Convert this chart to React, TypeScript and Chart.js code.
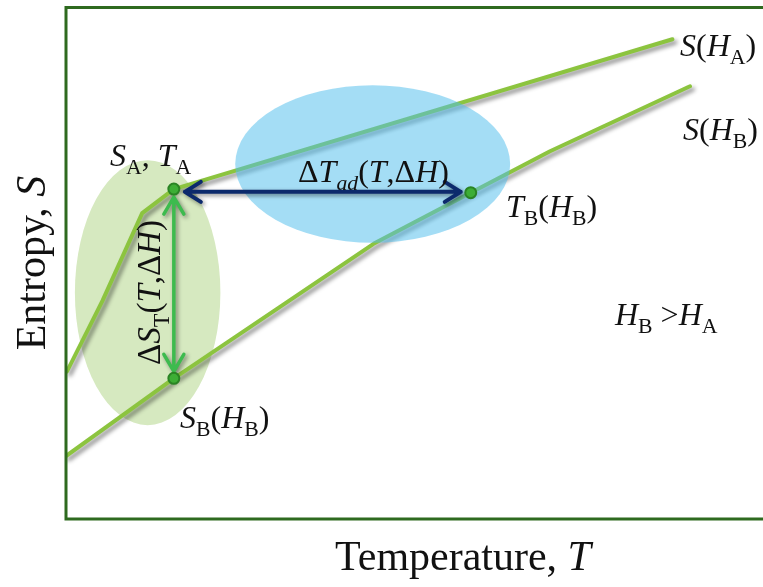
import { useEffect, useRef } from "react";
import { Chart, registerables } from "chart.js";

Chart.register(...registerables);

// Entropy curve at field H_A (temperature, entropy)
const tempA = [0.14, 5.3, 11.05, 15.64, 87.95];
const entropyA = [28.85, 42.7, 59.8, 64.5, 93.8];

// Entropy curve at field H_B
const tempB = [0, 15.64, 44.6, 58.7, 70.2, 90.5];
const entropyB = [12.3, 27.5, 53.8, 63.8, 71.9, 84.6];

// Marked states: (S_A, T_A), S_B(H_B), T_B(H_B)
const markerT = [15.64, 15.64, 58.7];
const markerS = [64.5, 27.5, 63.8];

const SERIF = '"Liberation Serif", "DejaVu Serif", serif';
const LINE_GREEN = "#8CC43F";
const FRAME_GREEN = "#2E6A1F";

type Part = { t: string; it?: boolean; sub?: boolean };

function partFont(p: Part, size: number) {
  const fs = p.sub ? size * 0.68 : size;
  return `${p.it ? "italic " : ""}${fs}px ${SERIF}`;
}

function richWidth(ctx: CanvasRenderingContext2D, parts: Part[], size: number) {
  let w = 0;
  for (const p of parts) {
    ctx.font = partFont(p, size);
    w += ctx.measureText(p.t).width;
  }
  return w;
}

function drawRich(
  ctx: CanvasRenderingContext2D,
  parts: Part[],
  x: number,
  y: number,
  size: number,
  align: "left" | "center" = "left"
) {
  ctx.save();
  ctx.fillStyle = "#111";
  ctx.textAlign = "left";
  ctx.textBaseline = "alphabetic";
  let cx = align === "center" ? x - richWidth(ctx, parts, size) / 2 : x;
  for (const p of parts) {
    ctx.font = partFont(p, size);
    ctx.fillText(p.t, cx, y + (p.sub ? size * 0.26 : 0));
    cx += ctx.measureText(p.t).width;
  }
  ctx.restore();
}

function shadowOn(ctx: CanvasRenderingContext2D, blur = 4, off = 3) {
  ctx.shadowColor = "rgba(0,0,0,0.45)";
  ctx.shadowBlur = blur;
  ctx.shadowOffsetX = off;
  ctx.shadowOffsetY = off;
}

// line with an open chevron head at each end
function doubleArrow(
  ctx: CanvasRenderingContext2D,
  x1: number,
  y1: number,
  x2: number,
  y2: number,
  color: string,
  width: number,
  headLen: number,
  headHalf: number
) {
  const dx = x2 - x1;
  const dy = y2 - y1;
  const len = Math.hypot(dx, dy);
  const ux = dx / len;
  const uy = dy / len;
  const nx = -uy;
  const ny = ux;
  ctx.save();
  shadowOn(ctx, 4, 2);
  ctx.strokeStyle = color;
  ctx.lineWidth = width;
  ctx.lineCap = "round";
  ctx.lineJoin = "round";
  ctx.beginPath();
  ctx.moveTo(x1, y1);
  ctx.lineTo(x2, y2);
  // head at end 2
  ctx.moveTo(x2 - ux * headLen + nx * headHalf, y2 - uy * headLen + ny * headHalf);
  ctx.lineTo(x2, y2);
  ctx.lineTo(x2 - ux * headLen - nx * headHalf, y2 - uy * headLen - ny * headHalf);
  // head at end 1
  ctx.moveTo(x1 + ux * headLen + nx * headHalf, y1 + uy * headLen + ny * headHalf);
  ctx.lineTo(x1, y1);
  ctx.lineTo(x1 + ux * headLen - nx * headHalf, y1 + uy * headLen - ny * headHalf);
  ctx.stroke();
  ctx.restore();
}

function ellipseAt(
  chart: Chart,
  cx: number,
  cy: number,
  rx: number,
  ry: number,
  fill: string
) {
  const xs = chart.scales.x;
  const ys = chart.scales.y;
  const px = xs.getPixelForValue(cx);
  const py = ys.getPixelForValue(cy);
  const prx = Math.abs(xs.getPixelForValue(cx + rx) - px);
  const pry = Math.abs(ys.getPixelForValue(cy + ry) - py);
  const ctx = chart.ctx;
  ctx.save();
  ctx.fillStyle = fill;
  ctx.beginPath();
  ctx.ellipse(px, py, prx, pry, 0, 0, Math.PI * 2);
  ctx.fill();
  ctx.restore();
}

const diagramPlugin = {
  id: "diagram",
  beforeDatasetsDraw(chart: Chart) {
    // isothermal region around the S_A -> S_B change
    ellipseAt(chart, 11.84, 44.25, 10.55, 25.9, "#D6E9C0");
  },
  beforeDatasetDraw(chart: Chart, args: any) {
    if (args.index > 0) {
      chart.ctx.save();
      shadowOn(chart.ctx, 4, 3);
    }
  },
  afterDatasetDraw(chart: Chart, args: any) {
    if (args.index > 0) chart.ctx.restore();
    if (args.index !== 1) return;
    const ctx = chart.ctx;
    const xs = chart.scales.x;
    const ys = chart.scales.y;
    // adiabatic region around the T_A -> T_B change
    ellipseAt(chart, 44.48, 69.4, 19.94, 15.4, "rgba(80,190,235,0.52)");

    const ax = xs.getPixelForValue(markerT[0]);
    const ay = ys.getPixelForValue(markerS[0]);
    const bx = xs.getPixelForValue(markerT[1]);
    const by = ys.getPixelForValue(markerS[1]);
    const tx = xs.getPixelForValue(markerT[2]);
    const ty = ys.getPixelForValue(markerS[2]);

    // ΔS_T : vertical arrow between S_A and S_B
    doubleArrow(ctx, ax, ay + 8, bx, by - 7, "#3DBB4E", 3.5, 17, 10);
    // ΔT_ad : horizontal arrow between T_A and T_B
    const hy = (ay + ty) / 2 + 1;
    doubleArrow(ctx, ax + 11, hy, tx - 10, hy, "#0C2A6C", 4, 16, 10);
  },
  afterDraw(chart: Chart) {
    const ctx = chart.ctx;
    const { left, top, bottom } = chart.chartArea;
    const right = chart.width;

    // frame: left, top and bottom edges
    ctx.save();
    ctx.strokeStyle = FRAME_GREEN;
    ctx.lineWidth = 3;
    ctx.beginPath();
    ctx.moveTo(right, top);
    ctx.lineTo(left, top);
    ctx.lineTo(left, bottom);
    ctx.lineTo(right, bottom);
    ctx.stroke();
    ctx.restore();

    const size = 32;
    drawRich(ctx, [{ t: "S", it: true }, { t: "A", sub: true }, { t: ", " }, { t: "T", it: true }, { t: "A", sub: true }], 110, 166, size);
    drawRich(
      ctx,
      [
        { t: "Δ" },
        { t: "T", it: true },
        { t: "ad", it: true, sub: true },
        { t: "(" },
        { t: "T", it: true },
        { t: "," },
        { t: "Δ" },
        { t: "H", it: true },
        { t: ")" },
      ],
      298,
      182,
      size
    );
    drawRich(ctx, [{ t: "T", it: true }, { t: "B", sub: true }, { t: "(" }, { t: "H", it: true }, { t: "B", sub: true }, { t: ")" }], 506, 217, size);
    drawRich(ctx, [{ t: "S", it: true }, { t: "(" }, { t: "H", it: true }, { t: "A", sub: true }, { t: ")" }], 680, 56, size);
    drawRich(ctx, [{ t: "S", it: true }, { t: "(" }, { t: "H", it: true }, { t: "B", sub: true }, { t: ")" }], 683, 140, size);
    drawRich(ctx, [{ t: "S", it: true }, { t: "B", sub: true }, { t: "(" }, { t: "H", it: true }, { t: "B", sub: true }, { t: ")" }], 180, 428, size);
    drawRich(ctx, [{ t: "H", it: true }, { t: "B", sub: true }, { t: " >" }, { t: "H", it: true }, { t: "A", sub: true }], 615, 325, size);

    // ΔS_T label, reading upward beside the vertical arrow
    ctx.save();
    ctx.translate(160, 365);
    ctx.rotate(-Math.PI / 2);
    drawRich(
      ctx,
      [
        { t: "Δ" },
        { t: "S", it: true },
        { t: "T", sub: true },
        { t: "(" },
        { t: "T", it: true },
        { t: "," },
        { t: "Δ" },
        { t: "H", it: true },
        { t: ")" },
      ],
      0,
      0,
      33
    );
    ctx.restore();

    // axis titles
    drawRich(ctx, [{ t: "Temperature, " }, { t: "T", it: true }], 463, 570, 42, "center");
    ctx.save();
    ctx.translate(45, 263);
    ctx.rotate(-Math.PI / 2);
    drawRich(ctx, [{ t: "Entropy, " }, { t: "S", it: true }], 0, 0, 42, "center");
    ctx.restore();
  },
};

export default function App() {
  const canvasRef = useRef<HTMLCanvasElement | null>(null);

  useEffect(() => {
    const canvas = canvasRef.current;
    if (!canvas) return;
    const chart = new Chart(canvas, {
      type: "line",
      data: {
        datasets: [
          {
            label: "states",
            data: markerT.map((t, i) => ({ x: t, y: markerS[i] })),
            showLine: false,
            pointRadius: 5.5,
            pointBorderWidth: 2,
            pointBackgroundColor: "#3DAE35",
            pointBorderColor: "#2A8424",
            clip: false,
          },
          {
            label: "S(H_A)",
            data: tempA.map((t, i) => ({ x: t, y: entropyA[i] })),
            borderColor: LINE_GREEN,
            borderWidth: 4,
            pointRadius: 0,
            tension: 0,
            fill: false,
            borderCapStyle: "round",
            borderJoinStyle: "round",
          },
          {
            label: "S(H_B)",
            data: tempB.map((t, i) => ({ x: t, y: entropyB[i] })),
            borderColor: LINE_GREEN,
            borderWidth: 4,
            pointRadius: 0,
            tension: 0,
            fill: false,
            borderCapStyle: "round",
            borderJoinStyle: "round",
          },
        ],
      },
      options: {
        responsive: false,
        animation: false,
        events: [],
        layout: { padding: { left: 66, top: 6, right: 0, bottom: 68 } },
        plugins: { legend: { display: false }, tooltip: { enabled: false } },
        scales: {
          x: { type: "linear", min: 0, max: 100, display: false },
          y: { type: "linear", min: 0, max: 100, display: false },
        },
      },
      plugins: [diagramPlugin],
    });
    return () => chart.destroy();
  }, []);

  return (
    <div style={{ position: "fixed", left: 0, top: 0, width: 763, height: 587, background: "#fff" }}>
      <canvas ref={canvasRef} width={763} height={587} style={{ display: "block" }} />
    </div>
  );
}
